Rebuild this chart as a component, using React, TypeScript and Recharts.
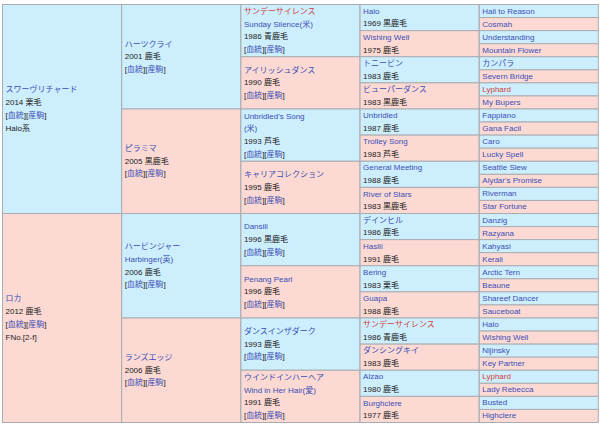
import React from 'react'
import { BarChart, Bar, XAxis, YAxis } from 'recharts'

// generation 1 (parents)
const gen1Names = ['スワーヴリチャード', 'ロカ']
const gen1Info = ['2014 栗毛', '2012 鹿毛']
const gen1Extra = ['Halo系', 'FNo.[2-f]']

// generation 2
const gen2Names = ['ハーツクライ', 'ピラミマ', 'ハービンジャー', 'ランズエッジ']
const gen2Alt = ['', '', 'Harbinger(英)', '']
const gen2Info = ['2001 鹿毛', '2005 黒鹿毛', '2006 鹿毛', '2006 鹿毛']

// generation 3
const gen3Names = ['サンデーサイレンス', 'アイリッシュダンス', "Unbridled's Song", 'キャリアコレクション', 'Dansili', 'Penang Pearl', 'ダンスインザダーク', 'ウインドインハーヘア']
const gen3Alt = ['Sunday Silence(米)', '', '(米)', '', '', '', '', 'Wind in Her Hair(愛)']
const gen3Info = ['1986 青鹿毛', '1990 鹿毛', '1993 芦毛', '1995 鹿毛', '1996 黒鹿毛', '1996 鹿毛', '1993 鹿毛', '1991 鹿毛']

// generation 4
const gen4Names = ['Halo', 'Wishing Well', 'トニービン', 'ビューパーダンス', 'Unbridled', 'Trolley Song', 'General Meeting', 'River of Stars', 'デインヒル', 'Hasili', 'Bering', 'Guapa', 'サンデーサイレンス', 'ダンシングキイ', 'Alzao', 'Burghclere']
const gen4Info = ['1969 黒鹿毛', '1975 鹿毛', '1983 鹿毛', '1983 黒鹿毛', '1987 鹿毛', '1983 芦毛', '1988 鹿毛', '1983 黒鹿毛', '1986 鹿毛', '1991 鹿毛', '1983 栗毛', '1988 鹿毛', '1986 青鹿毛', '1983 鹿毛', '1980 鹿毛', '1977 鹿毛']

// generation 5
const gen5Names = ['Hail to Reason', 'Cosmah', 'Understanding', 'Mountain Flower', 'カンパラ', 'Severn Bridge', 'Lyphard', 'My Bupers', 'Fappiano', 'Gana Facil', 'Caro', 'Lucky Spell', 'Seattle Slew', "Alydar's Promise", 'Riverman', 'Star Fortune', 'Danzig', 'Razyana', 'Kahyasi', 'Kerali', 'Arctic Tern', 'Beaune', 'Shareef Dancer', 'Sauceboat', 'Halo', 'Wishing Well', 'Nijinsky', 'Key Partner', 'Lyphard', 'Lady Rebecca', 'Busted', 'Highclere']

// names shown as red links
const redNames = ['サンデーサイレンス', 'Lyphard']

const MALE = '#cdeefd'
const FEMALE = '#fcd9d3'
const LINK = '#3a4fb5'
const RED = '#d2403a'
const TEXT = '#222'

type Seg = [string, string]

const nameLine = (n: string): Seg[] => [[n, redNames.includes(n) ? RED : LINK]]
const refLine: Seg[] = [['[', TEXT], ['血統', LINK], ['][', TEXT], ['産駒', LINK], [']', TEXT]]

const columns: Seg[][][][] = [
  gen1Names.map((n, i) => [nameLine(n), [[gen1Info[i], TEXT]], refLine, [[gen1Extra[i], TEXT]]]),
  gen2Names.map((n, i) => {
    const l: Seg[][] = [nameLine(n)]
    if (gen2Alt[i]) l.push(nameLine(gen2Alt[i]))
    l.push([[gen2Info[i], TEXT]], refLine)
    return l
  }),
  gen3Names.map((n, i) => {
    const l: Seg[][] = [nameLine(n)]
    if (gen3Alt[i]) l.push(nameLine(gen3Alt[i]))
    l.push([[gen3Info[i], TEXT]], refLine)
    return l
  }),
  gen4Names.map((n, i) => [nameLine(n), [[gen4Info[i], TEXT]]]),
  gen5Names.map((n) => [nameLine(n)]),
]

const data = columns.map((cells, k) => {
  const row: any = { col: k }
  for (let i = 0; i < 32; i++) row['s' + i] = i < cells.length ? 32 / cells.length : 0
  return row
})

const LH = 12.7

const CellShape = (p: any) => {
  const col = p.payload ? p.payload.col : p.index
  const lines = columns[col] ? columns[col][p.slot] : undefined
  if (!lines || !p.height) return <g />
  const top = Math.min(p.y, p.y + p.height)
  const h = Math.abs(p.height)
  const cy = top + h / 2
  return (
    <g>
      <rect x={p.x + 0.5} y={top + 0.5} width={p.width} height={h} fill={p.slot % 2 === 0 ? MALE : FEMALE} stroke="#a9adb2" />
      {lines.map((segs, li) => (
        <text key={li} x={p.x + 3.5} y={cy + (li - (lines.length - 1) / 2) * LH} dominantBaseline="central" fontSize={8} fontFamily="'Liberation Sans', 'Noto Sans CJK JP', sans-serif">
          {segs.map((s, si) => (
            <tspan key={si} fill={s[1]}>{s[0]}</tspan>
          ))}
        </text>
      ))}
    </g>
  )
}

export default function App() {
  return (
    <div style={{ position: 'absolute', left: 0, top: 0, background: '#fff' }}>
      <BarChart width={600} height={427} data={data} margin={{ top: 4, right: 2, bottom: 5, left: 2 }} barCategoryGap={0} barGap={0}>
        <XAxis dataKey="col" hide />
        <YAxis type="number" domain={[0, 32]} reversed hide />
        {Array.from({ length: 32 }, (_, i) => (
          <Bar key={i} dataKey={'s' + i} stackId="p" isAnimationActive={false} shape={(props: any) => <CellShape {...props} slot={i} />} />
        ))}
      </BarChart>
    </div>
  )
}
